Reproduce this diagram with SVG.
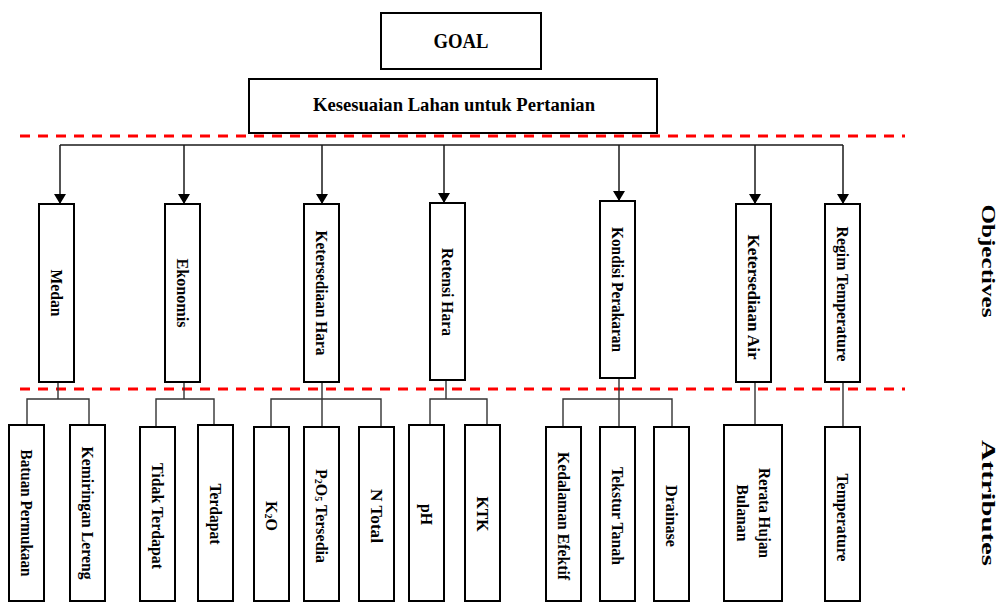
<svg xmlns="http://www.w3.org/2000/svg" width="1001" height="602" viewBox="0 0 1001 602">
<style>
.box{fill:#fff;stroke:#000;stroke-width:2}
.t{font-family:"Liberation Serif","Times New Roman",serif;font-weight:bold;fill:#000}
.v{font-size:16px;text-anchor:middle;dominant-baseline:central}
.c{fill:none;stroke:#1a1a1a;stroke-width:1.5}
.b{fill:none;stroke:#333;stroke-width:1.4}
.red{fill:none;stroke:#f00;stroke-width:3;stroke-dasharray:10 8}
</style>
<defs>
<marker id="arr" viewBox="0 0 10 12" refX="10" refY="6" markerWidth="10" markerHeight="12" markerUnits="userSpaceOnUse" orient="auto">
<path d="M0,0 L10,6 L0,12 Z" fill="#000"/>
</marker>
</defs>
<rect width="1001" height="602" fill="#fff"/>

<g id="separators">
<line class="red" x1="20" y1="136" x2="905" y2="136"/>
<line class="red" x1="20" y1="389" x2="905" y2="389"/>
</g>

<g id="connectors">
<path class="c" d="M60,145 H843"/>
<line class="c" x1="60" y1="145" x2="60" y2="204" marker-end="url(#arr)"/>
<line class="c" x1="184" y1="145" x2="184" y2="204" marker-end="url(#arr)"/>
<line class="c" x1="322" y1="145" x2="322" y2="204" marker-end="url(#arr)"/>
<line class="c" x1="444" y1="145" x2="444" y2="203" marker-end="url(#arr)"/>
<line class="c" x1="619" y1="145" x2="619" y2="201" marker-end="url(#arr)"/>
<line class="c" x1="755" y1="145" x2="755" y2="204" marker-end="url(#arr)"/>
<line class="c" x1="843" y1="145" x2="843" y2="204" marker-end="url(#arr)"/>
<path class="b" d="M58,382 V399 M27,425 V399 H89 V425"/>
<path class="b" d="M184,382 V399 M156,427 V399 H214 V425"/>
<path class="b" d="M322,382 V427 M271,427 V399 H381 V427"/>
<path class="b" d="M446,380 V399 M430,425 V399 H487 V425"/>
<path class="b" d="M619,378 V427 M563,427 V399 H672 V427"/>
<path class="b" d="M755,382 V425"/>
<path class="b" d="M843,382 V427"/>
</g>

<g id="goal">
<rect class="box" x="381" y="13" width="160" height="56"/>
<text class="t" x="461" y="48" font-size="20" text-anchor="middle" textLength="55" lengthAdjust="spacingAndGlyphs">GOAL</text>
</g>
<g id="kesesuaian">
<rect class="box" x="249" y="79" width="408" height="54"/>
<text class="t" x="454" y="111" font-size="18" text-anchor="middle" textLength="282" lengthAdjust="spacingAndGlyphs">Kesesuaian Lahan untuk Pertanian</text>
</g>

<g id="obj-medan">
<rect class="box" x="39" y="204" width="35" height="178"/>
<text class="t v" transform="translate(56.5 293) rotate(90)" textLength="47" lengthAdjust="spacingAndGlyphs">Medan</text>
</g>
<g id="obj-ekonomis">
<rect class="box" x="165" y="204" width="35" height="178"/>
<text class="t v" transform="translate(182.5 293) rotate(90)" textLength="69" lengthAdjust="spacingAndGlyphs">Ekonomis</text>
</g>
<g id="obj-ketersediaan-hara">
<rect class="box" x="304" y="204" width="35" height="178"/>
<text class="t v" transform="translate(321.5 293) rotate(90)" textLength="125" lengthAdjust="spacingAndGlyphs">Ketersediaan Hara</text>
</g>
<g id="obj-retensi-hara">
<rect class="box" x="430" y="203" width="35" height="177"/>
<text class="t v" transform="translate(447.5 292) rotate(90)" textLength="88" lengthAdjust="spacingAndGlyphs">Retensi Hara</text>
</g>
<g id="obj-kondisi-perakaran">
<rect class="box" x="600" y="201" width="35" height="177"/>
<text class="t v" transform="translate(617.5 289.5) rotate(90)" textLength="125" lengthAdjust="spacingAndGlyphs">Kondisi Perakaran</text>
</g>
<g id="obj-ketersediaan-air">
<rect class="box" x="736" y="204" width="35" height="178"/>
<text class="t v" transform="translate(753.5 297) rotate(90)" textLength="125" lengthAdjust="spacingAndGlyphs">Ketersediaan Air</text>
</g>
<g id="obj-regim-temperature">
<rect class="box" x="825" y="204" width="35" height="178"/>
<text class="t v" transform="translate(842.5 294) rotate(90)" textLength="135" lengthAdjust="spacingAndGlyphs">Regim Temperature</text>
</g>

<g id="att-batuan">
<rect class="box" x="9" y="425" width="35" height="176"/>
<text class="t v" transform="translate(26.5 513) rotate(90)" textLength="127" lengthAdjust="spacingAndGlyphs">Batuan Permukaan</text>
</g>
<g id="att-kemiringan">
<rect class="box" x="70" y="425" width="35" height="176"/>
<text class="t v" transform="translate(87.5 513) rotate(90)" textLength="133" lengthAdjust="spacingAndGlyphs">Kemiringan Lereng</text>
</g>
<g id="att-tidak-terdapat">
<rect class="box" x="140" y="427" width="35" height="174"/>
<text class="t v" transform="translate(157.5 516) rotate(90)" textLength="106" lengthAdjust="spacingAndGlyphs">Tidak Terdapat</text>
</g>
<g id="att-terdapat">
<rect class="box" x="198" y="425" width="35" height="176"/>
<text class="t v" transform="translate(215.5 514) rotate(90)" textLength="61" lengthAdjust="spacingAndGlyphs">Terdapat</text>
</g>
<g id="att-k2o">
<rect class="box" x="254" y="427" width="35" height="174"/>
<text class="t v" transform="translate(271.5 516) rotate(90)">K<tspan font-size="10" dy="3">2</tspan><tspan dy="-3">O</tspan></text>
</g>
<g id="att-p2o5">
<rect class="box" x="304" y="427" width="35" height="174"/>
<text class="t v" transform="translate(321.5 516) rotate(90)">P<tspan font-size="10" dy="3">2</tspan><tspan dy="-3">O</tspan><tspan font-size="10" dy="3">5</tspan><tspan dy="-3"> Tersedia</tspan></text>
</g>
<g id="att-ntotal">
<rect class="box" x="359" y="427" width="35" height="174"/>
<text class="t v" transform="translate(376.5 516) rotate(90)" textLength="54" lengthAdjust="spacingAndGlyphs">N Total</text>
</g>
<g id="att-ph">
<rect class="box" x="409" y="425" width="35" height="176"/>
<text class="t v" transform="translate(426.5 514.5) rotate(90)" textLength="21" lengthAdjust="spacingAndGlyphs">pH</text>
</g>
<g id="att-ktk">
<rect class="box" x="465" y="425" width="35" height="176"/>
<text class="t v" transform="translate(482.5 514) rotate(90)" textLength="35" lengthAdjust="spacingAndGlyphs">KTK</text>
</g>
<g id="att-kedalaman">
<rect class="box" x="546" y="427" width="35" height="174"/>
<text class="t v" transform="translate(563.5 516) rotate(90)" textLength="128" lengthAdjust="spacingAndGlyphs">Kedalaman Efektif</text>
</g>
<g id="att-tekstur">
<rect class="box" x="600" y="427" width="35" height="174"/>
<text class="t v" transform="translate(617.5 516) rotate(90)" textLength="98" lengthAdjust="spacingAndGlyphs">Tekstur Tanah</text>
</g>
<g id="att-drainase">
<rect class="box" x="654" y="427" width="35" height="174"/>
<text class="t v" transform="translate(671.5 516) rotate(90)" textLength="62" lengthAdjust="spacingAndGlyphs">Drainase</text>
</g>
<g id="att-rerata-hujan">
<rect class="box" x="724" y="425" width="58" height="176"/>
<text class="t v" transform="translate(764.5 513) rotate(90)" textLength="90" lengthAdjust="spacingAndGlyphs">Rerata Hujan</text>
<text class="t v" transform="translate(742.5 513) rotate(90)" textLength="57" lengthAdjust="spacingAndGlyphs">Bulanan</text>
</g>
<g id="att-temperature">
<rect class="box" x="825" y="427" width="35" height="174"/>
<text class="t v" transform="translate(842.5 517.5) rotate(90)" textLength="88" lengthAdjust="spacingAndGlyphs">Temperature</text>
</g>

<g id="labels">
<text class="t" transform="translate(988 261) rotate(90)" font-size="18" text-anchor="middle" dominant-baseline="central" textLength="113" lengthAdjust="spacingAndGlyphs">Objectives</text>
<text class="t" transform="translate(988 503) rotate(90)" font-size="18" text-anchor="middle" dominant-baseline="central" textLength="126" lengthAdjust="spacingAndGlyphs">Attributes</text>
</g>
</svg>
